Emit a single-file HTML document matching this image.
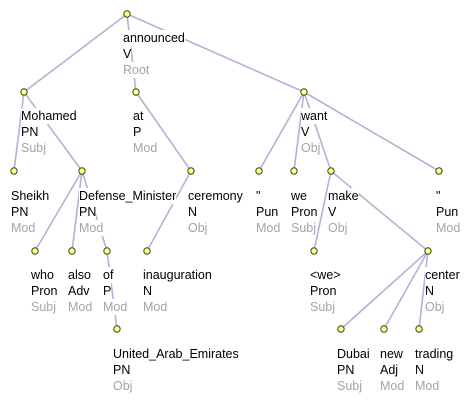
<!DOCTYPE html>
<html><head><meta charset="utf-8"><style>
body{margin:0;background:#fff;width:476px;height:415px;position:relative;overflow:hidden;font-family:"Liberation Sans",Arial,sans-serif;font-size:12.5px}
svg{position:absolute;left:0;top:0}
.n{position:absolute;line-height:16px;white-space:nowrap}
.n span{display:block;background:#fff;width:max-content;color:#000}
.n span.r{color:#a4a4ac}
</style></head><body>
<svg width="476" height="415">
<g stroke="#b0b3d6" stroke-width="1.6" fill="none">
<line x1="127" y1="14" x2="24" y2="92"/><line x1="127" y1="14" x2="136" y2="92"/><line x1="127" y1="14" x2="304" y2="92"/>
<line x1="24" y1="92" x2="14" y2="171"/><line x1="24" y1="92" x2="82" y2="171"/>
<line x1="136" y1="92" x2="191" y2="171"/>
<line x1="304" y1="92" x2="259" y2="171"/><line x1="304" y1="92" x2="294" y2="171"/><line x1="304" y1="92" x2="331" y2="171"/><line x1="304" y1="92" x2="439" y2="171"/>
<line x1="82" y1="171" x2="35" y2="251"/><line x1="82" y1="171" x2="72" y2="251"/><line x1="82" y1="171" x2="107" y2="251"/>
<line x1="191" y1="171" x2="147" y2="251"/>
<line x1="331" y1="171" x2="314" y2="251"/><line x1="331" y1="171" x2="428" y2="251"/>
<line x1="107" y1="251" x2="117" y2="329"/>
<line x1="428" y1="251" x2="341" y2="329"/><line x1="428" y1="251" x2="384" y2="329"/><line x1="428" y1="251" x2="419" y2="329"/>
</g>
</svg>
<svg width="476" height="415">
<g fill="#ffff80" stroke="#404020" stroke-width="1">
<circle cx="127" cy="14" r="3.2"/><circle cx="24" cy="92" r="3.2"/><circle cx="136" cy="92" r="3.2"/><circle cx="304" cy="92" r="3.2"/>
<circle cx="14" cy="171" r="3.2"/><circle cx="82" cy="171" r="3.2"/><circle cx="191" cy="171" r="3.2"/><circle cx="259" cy="171" r="3.2"/><circle cx="294" cy="171" r="3.2"/><circle cx="331" cy="171" r="3.2"/><circle cx="439" cy="171" r="3.2"/>
<circle cx="35" cy="251" r="3.2"/><circle cx="72" cy="251" r="3.2"/><circle cx="107" cy="251" r="3.2"/><circle cx="147" cy="251" r="3.2"/><circle cx="314" cy="251" r="3.2"/><circle cx="428" cy="251" r="3.2"/>
<circle cx="117" cy="329" r="3.2"/><circle cx="341" cy="329" r="3.2"/><circle cx="384" cy="329" r="3.2"/><circle cx="419" cy="329" r="3.2"/>
</g></svg>
<div class="n" style="left:123px;top:30px"><span>announced</span><span>V</span><span class="r">Root</span></div>
<div class="n" style="left:21px;top:108px"><span>Mohamed</span><span>PN</span><span class="r">Subj</span></div>
<div class="n" style="left:133px;top:108px"><span>at</span><span>P</span><span class="r">Mod</span></div>
<div class="n" style="left:301px;top:108px"><span>want</span><span>V</span><span class="r">Obj</span></div>
<div class="n" style="left:11px;top:188px"><span>Sheikh</span><span>PN</span><span class="r">Mod</span></div>
<div class="n" style="left:79px;top:188px"><span>Defense_Minister</span><span>PN</span><span class="r">Mod</span></div>
<div class="n" style="left:188px;top:188px"><span>ceremony</span><span>N</span><span class="r">Obj</span></div>
<div class="n" style="left:256px;top:188px"><span>"</span><span>Pun</span><span class="r">Mod</span></div>
<div class="n" style="left:291px;top:188px"><span>we</span><span>Pron</span><span class="r">Subj</span></div>
<div class="n" style="left:328px;top:188px"><span>make</span><span>V</span><span class="r">Obj</span></div>
<div class="n" style="left:436px;top:188px"><span>"</span><span>Pun</span><span class="r">Mod</span></div>
<div class="n" style="left:31px;top:267px"><span>who</span><span>Pron</span><span class="r">Subj</span></div>
<div class="n" style="left:68px;top:267px"><span>also</span><span>Adv</span><span class="r">Mod</span></div>
<div class="n" style="left:103px;top:267px"><span>of</span><span>P</span><span class="r">Mod</span></div>
<div class="n" style="left:143px;top:267px"><span>inauguration</span><span>N</span><span class="r">Mod</span></div>
<div class="n" style="left:310px;top:267px"><span>&lt;we&gt;</span><span>Pron</span><span class="r">Subj</span></div>
<div class="n" style="left:425px;top:267px"><span>center</span><span>N</span><span class="r">Obj</span></div>
<div class="n" style="left:113px;top:346px"><span>United_Arab_Emirates</span><span>PN</span><span class="r">Obj</span></div>
<div class="n" style="left:337px;top:346px"><span>Dubai</span><span>PN</span><span class="r">Subj</span></div>
<div class="n" style="left:380px;top:346px"><span>new</span><span>Adj</span><span class="r">Mod</span></div>
<div class="n" style="left:415px;top:346px"><span>trading</span><span>N</span><span class="r">Mod</span></div>
</body></html>
